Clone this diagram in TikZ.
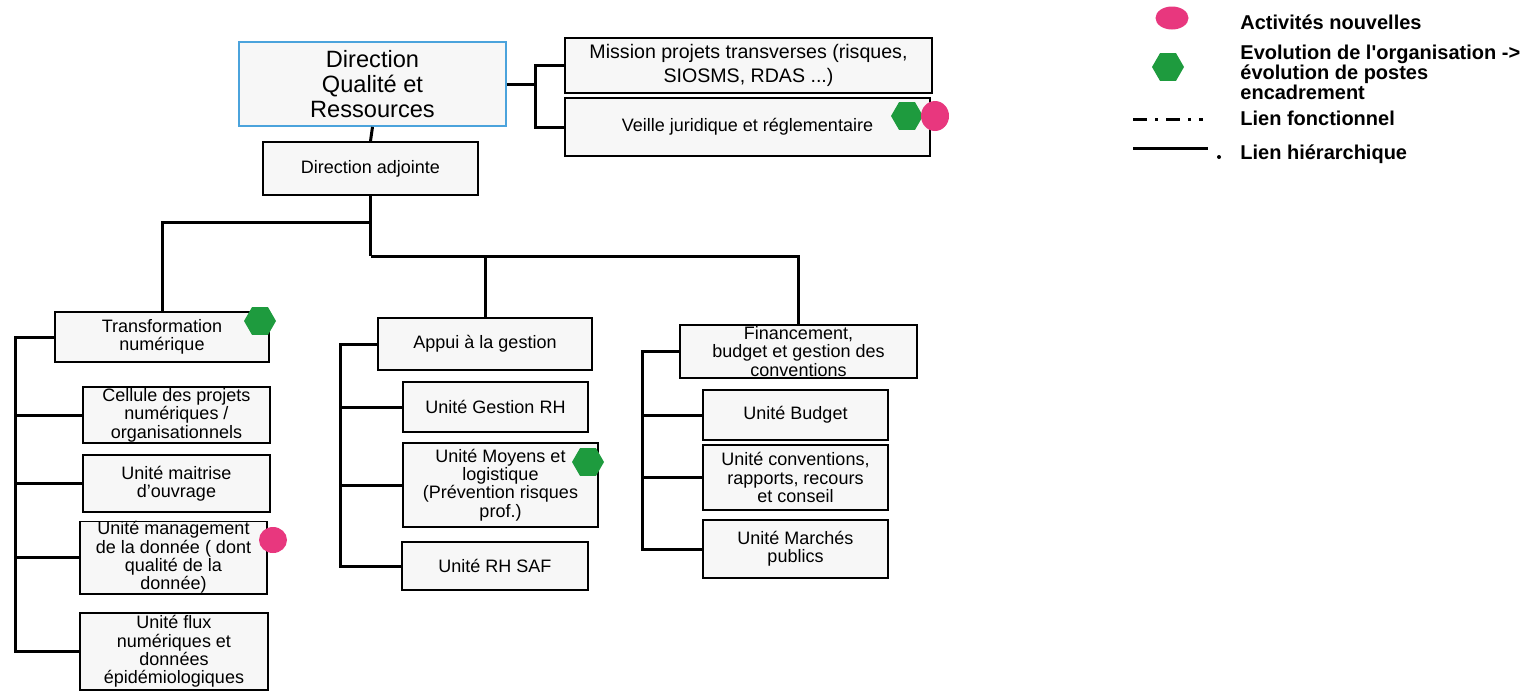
\documentclass[tikz,border=0pt]{standalone}
\usepackage{fontspec}
\setmainfont{Liberation Sans}
\newfontfamily\plainsans{Liberation Sans}[Ligatures=TeXOff]
\usetikzlibrary{shapes.geometric}
\definecolor{pinkdot}{HTML}{E8377E}
\definecolor{greendot}{HTML}{1E9B3E}
\definecolor{dirblue}{HTML}{4BA3DC}
\definecolor{boxfill}{HTML}{F7F7F7}
\begin{document}
\begin{tikzpicture}[x=0.5pt,y=-0.5pt,
  box/.style={draw, fill=boxfill, line width=0.9pt, align=center, inner sep=0pt,
    font=\fontsize{9}{9.2}\selectfont},
  link/.style={line width=1.5pt},
  newact/.style={ellipse, fill=pinkdot, inner sep=0pt, minimum width=14pt, minimum height=15pt},
  evol/.style={regular polygon, regular polygon sides=6, fill=greendot, inner sep=0pt, minimum size=16pt},
  legtext/.style={anchor=west, align=left, inner sep=0pt,
    font=\plainsans\bfseries\fontsize{10}{10}\selectfont}]
\useasboundingbox (0,0) rectangle (1531,692);
\fill[white] (0,0) rectangle (1531,692);

% top level
\node[box, draw=dirblue, minimum width=133.5pt, minimum height=42pt,
  font=\fontsize{11.8}{12.5}\selectfont] (dqr) at (372.5,84) {Direction\\Qualité et\\Ressources};
\node[box, minimum width=183.5pt, minimum height=27.5pt,
  font=\fontsize{9.8}{12}\selectfont] (mission) at (748.5,65.5) {Mission projets transverses (risques,\\SIOSMS, RDAS ...)};
\node[box, minimum width=182.5pt, minimum height=29pt] (veille) at (747.5,127) {Veille juridique et réglementaire};
\node[box, minimum width=107.5pt, minimum height=26.5pt] (dadj) at (370.5,168.5) {Direction adjointe};

% left column
\node[box, minimum width=107pt, minimum height=25pt] (trans) at (162,337) {Transformation\\numérique};
\node[box, minimum width=93.5pt, minimum height=28pt] (cell) at (176.5,415) {Cellule des projets\\numériques /\\organisationnels};
\node[box, minimum width=93.5pt, minimum height=28.5pt] (moa) at (176.5,483.5) {Unité maitrise\\d’ouvrage};
\node[box, minimum width=93.5pt, minimum height=32.5pt] (mgmt) at (173.5,557.5) {Unité management\\de la donnée ( dont\\qualité de la\\donnée)};
\node[box, minimum width=94pt, minimum height=38.5pt] (flux) at (174,651.5) {Unité flux\\numériques et\\données\\épidémiologiques};

% middle column
\node[box, minimum width=107pt, minimum height=26pt] (appui) at (485,344) {Appui à la gestion};
\node[box, minimum width=92.5pt, minimum height=25pt] (grh) at (495.5,407) {Unité Gestion RH};
\node[box, minimum width=97.5pt, minimum height=42pt] (moyens) at (500.5,485) {Unité Moyens et\\logistique\\(Prévention risques\\prof.)};
\node[box, minimum width=93pt, minimum height=24pt] (saf) at (495,566) {Unité RH SAF};

% right column
\node[box, minimum width=118.5pt, minimum height=26.5pt] (fin) at (798.5,351.5) {Financement,\\budget et gestion des\\conventions};
\node[box, minimum width=92.5pt, minimum height=25pt] (budget) at (795.5,415) {Unité Budget};
\node[box, minimum width=92.5pt, minimum height=32.5pt] (conv) at (795.5,477.5) {Unité conventions,\\rapports, recours\\et conseil};
\node[box, minimum width=92.5pt, minimum height=29pt] (marches) at (795.5,549) {Unité Marchés\\publics};

% connectors, top
\coordinate (b1) at (535,84);
\draw[link] (dqr.east) -- (b1);
\draw[link] (mission.west) -| (b1) |- (veille.west);
\draw[link] (dqr.south) -- (dadj.north);
\coordinate (j1) at (370.5,222);
\coordinate (j2) at (370.5,256);
\draw[link] (dadj.south) -- (j2);
\draw[link] (j1) -| (trans.north);
\draw[link] (j2) -| (fin.north);
\draw[link] (j2 -| appui.north) -- (appui.north);

% column buses
\coordinate (lbx) at (15,0);
\coordinate (mbx) at (340,0);
\coordinate (rbx) at (642,0);
\draw[link] (trans.west) -| (lbx |- flux.west) -- (flux.west);
\foreach \n in {cell,moa,mgmt} \draw[link] (\n.west) -- (\n.west -| lbx);
\draw[link] (appui.west) -| (mbx |- saf.west) -- (saf.west);
\foreach \n in {grh,moyens} \draw[link] (\n.west) -- (\n.west -| mbx);
\draw[link] (fin.west) -| (rbx |- marches.west) -- (marches.west);
\foreach \n in {budget,conv} \draw[link] (\n.west) -- (\n.west -| rbx);

% markers
\node[evol] (h1) at (907,116) {};
\node[newact] (p1) at (935,116) {};
\node[evol] (h2) at (260,321) {};
\node[newact, minimum height=13pt] (p2) at (273,540) {};
\node[evol] (h3) at (588,462) {};

% legend
\node[newact, minimum width=16.5pt, minimum height=11.5pt] (lg1) at (1172,18) {};
\node[legtext] (lt1) at (1240,22) {Activités nouvelles};
\node[evol] (lg2) at (1168,67) {};
\node[legtext] (lt2) at (1240,72) {Evolution de l'organisation ->\\évolution de postes\\encadrement};
\coordinate (d1) at (1133,119);
\coordinate (d2) at (1203,119);
\draw[line width=1.5pt, dash pattern=on 7pt off 4pt on 1.5pt off 4pt] (d1) -- (d2);
\node[legtext] (lt3) at (1240,118) {Lien fonctionnel};
\coordinate (s1) at (1133,148);
\coordinate (s2) at (1208,148);
\draw[line width=1.5pt] (s1) -- (s2);
\fill (1219,157) circle (1pt);
\node[legtext] (lt4) at (1240,154) {Lien hiérarchique};
\end{tikzpicture}
\end{document}
